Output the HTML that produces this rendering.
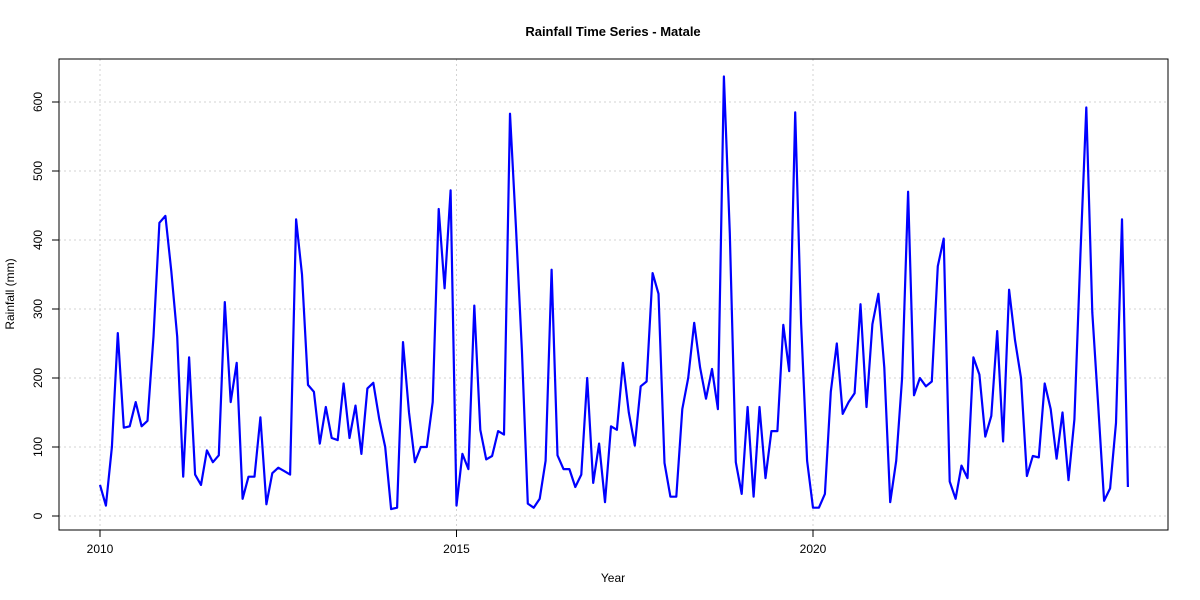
<!DOCTYPE html>
<html><head><meta charset="utf-8"><style>
body{margin:0;background:#fff}
svg{display:block;font-family:"Liberation Sans",Arial,sans-serif}
</style></head><body>
<svg id="chart" width="1200" height="600">
<text x="613" y="36" text-anchor="middle" font-weight="bold" font-size="13">Rainfall Time Series - Matale</text>
<text x="613" y="582" text-anchor="middle" font-size="12">Year</text>
<text transform="translate(14,294) rotate(-90)" text-anchor="middle" font-size="12">Rainfall (mm)</text>
<g id="grid"></g><g id="axes"></g><g id="series"></g>
<rect x="59" y="59" width="1109" height="471" fill="none" stroke="#000"/>
</svg>
<script>
const startYear = 2010;
const xTicks = [2010, 2015, 2020];
const yTicks = [0, 100, 200, 300, 400, 500, 600];
const rainfall = [
45,15,100,265,128,130,165,130,138,260,425,435,
355,260,57,230,60,45,95,78,88,310,165,222,
25,57,57,143,17,62,70,65,60,430,350,190,
180,105,158,113,110,192,113,160,90,185,193,140,
100,10,12,252,150,78,100,100,165,445,330,472,
15,90,68,305,125,82,87,123,118,583,420,240,
18,12,25,80,357,88,68,68,42,60,200,48,
105,20,130,125,222,150,102,188,195,352,322,77,
28,28,155,200,280,215,170,213,155,637,410,78,
32,158,28,158,55,123,123,277,210,585,280,80,
12,12,32,180,250,148,165,178,307,158,278,322,
215,20,80,200,470,175,200,188,195,362,402,50,
25,73,55,230,205,115,145,268,108,328,255,200,
58,87,85,192,155,83,150,52,140,378,592,295,
160,22,40,135,430,42];
const NS="http://www.w3.org/2000/svg";
const xs = t => 100 + (t - 2010) * 71.3;
const ys = v => 516 - v * 0.69;
function mk(tag, attrs, parent){const e=document.createElementNS(NS,tag);for(const k in attrs)e.setAttribute(k,attrs[k]);parent.appendChild(e);return e;}
const grid=document.getElementById('grid'), axes=document.getElementById('axes'), series=document.getElementById('series');
xTicks.forEach(t=>{
  const g=mk('line',{x1:xs(t),x2:xs(t),y1:59,y2:530,stroke:'#d3d3d3','stroke-dasharray':'2,3'},grid);
  
  
  const tk=mk('line',{x1:xs(t),x2:xs(t),y1:530,y2:537,stroke:'#000'},axes);
  
  
  const l=mk('text',{x:xs(t),y:553,'text-anchor':'middle','font-size':'12'},axes);
  l.textContent=t;
  
  
});
mk('line',{x1:xs(xTicks[0]),x2:xs(xTicks[xTicks.length-1]),y1:530,y2:530,stroke:'#000'},axes);
yTicks.forEach(v=>{
  const g=mk('line',{x1:59,x2:1168,y1:ys(v),y2:ys(v),stroke:'#d3d3d3','stroke-dasharray':'2,3'},grid);
  
  
  const tk=mk('line',{x1:52,x2:59,y1:ys(v),y2:ys(v),stroke:'#000'},axes);
  
  
  const l=mk('text',{transform:`translate(42,${ys(v)}) rotate(-90)`,'text-anchor':'middle','font-size':'12'},axes);
  l.textContent=v;
  
  
});
const pts=rainfall.map((v,i)=>xs(startYear+i/12).toFixed(1)+','+ys(v).toFixed(1)).join(' ');
const line=mk('polyline',{points:pts,fill:'none',stroke:'#0000ff','stroke-width':'2.2','stroke-linejoin':'round'},series);


</script>
</body></html>
